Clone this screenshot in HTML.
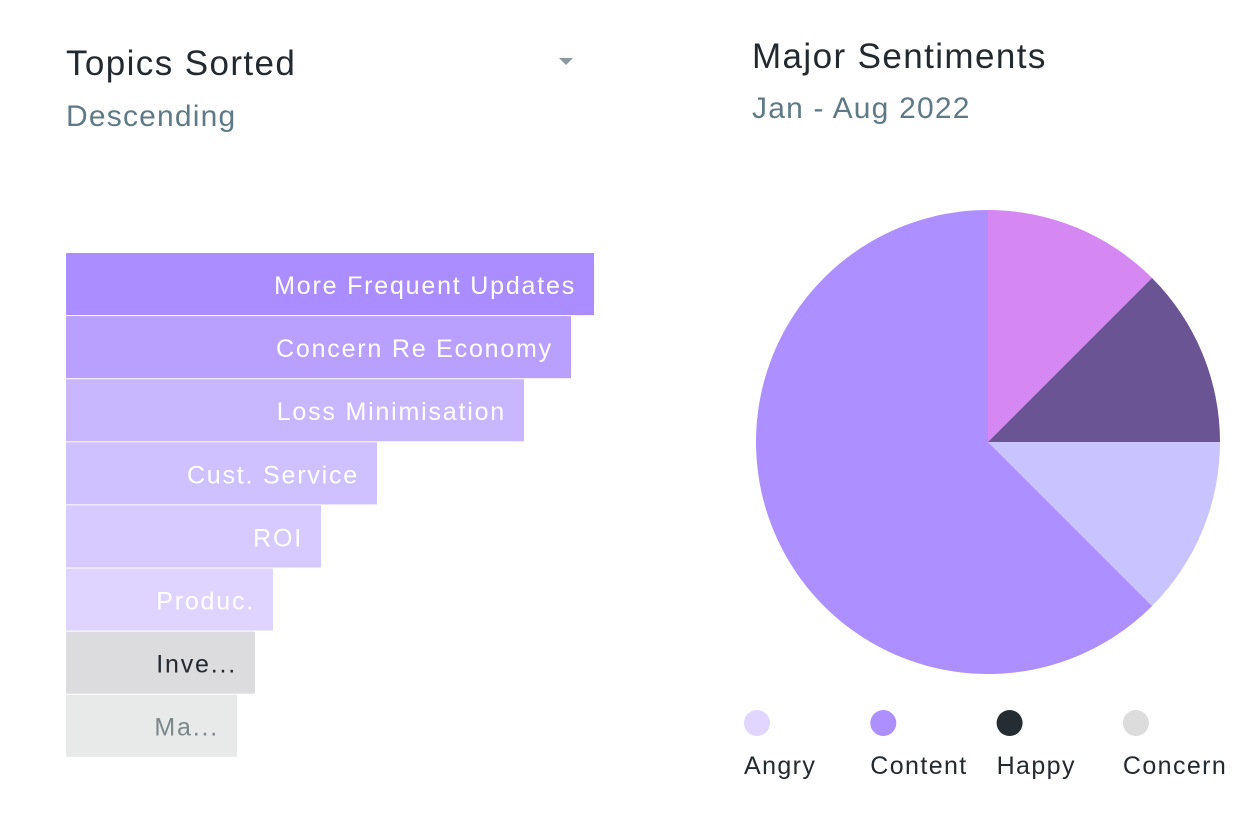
<!DOCTYPE html>
<html><head><meta charset="utf-8"><style>
body{margin:0;width:1258px;height:826px;background:#fff;font-family:"Liberation Sans",sans-serif;position:relative;overflow:hidden}
.t{position:absolute;white-space:nowrap}
</style></head><body>
<div class="t" style="left:66px;top:44px;font-size:35px;color:#22292f;letter-spacing:1.4px">Topics Sorted</div>
<div class="t" style="left:66px;top:100px;font-size:30px;color:#5f7a86;letter-spacing:1.2px">Descending</div>
<svg style="position:absolute;left:558px;top:57px" width="16" height="10"><polygon points="1,1 15,1 8,8" fill="#8a979e"/></svg>
<div class="t" style="left:752px;top:37px;font-size:35px;color:#22292f;letter-spacing:1.4px">Major Sentiments</div>
<div class="t" style="left:752px;top:92px;font-size:30px;color:#5f7a86;letter-spacing:1.2px">Jan - Aug 2022</div>
<svg id="chart" width="1258" height="826" style="position:absolute;left:0;top:0"></svg>
<script>
const topics=["More Frequent Updates","Concern Re Economy","Loss Minimisation","Cust. Service","ROI","Produc.","Inve...","Ma..."];
const topicValues=[528,505,458,311,255,207,189,171];
const barColors=["#ab8dff","#b9a0ff","#c8b7ff","#cfc0ff","#d6caff","#dfd4ff","#dcdcde","#e8e9e9"];
const textColors=["#fff","#fff","#fff","#fff","#fff","#fff","#22292f","#7c878c"];
const sentiments=["Angry","Content","Happy","Concern"];
const sliceLabels=["Pink","Dark","Light","Main"];
const sliceValues=[12.5,12.5,12.5,62.5];
const sliceColors=["#d587f2","#6a5494","#c9c3ff","#ad8fff"];
const legendColors=["#e0d6ff","#ad8fff","#252d33","#dcdcdc"];
const NS="http://www.w3.org/2000/svg";
const svg=document.getElementById('chart');
function mk(tag,attrs){const e=document.createElementNS(NS,tag);for(const k in attrs)e.setAttribute(k,attrs[k]);svg.appendChild(e);return e;}
const x0=66,y0=253,bh=63.1,scale=1;
function xw(v){return v*scale;}
topics.forEach((t,i)=>{
  const y=y0+i*bh;
  const r=mk('rect',{x:x0,y:y,width:xw(topicValues[i]),height:bh-1,fill:barColors[i]});
  
  
  const tx=mk('text',{x:x0+xw(topicValues[i])-18,y:y+41,'text-anchor':'end','font-size':25,fill:textColors[i],'letter-spacing':'1.8'});
  tx.textContent=t;
  
  
});
const cx=988,cy=442,R=232;
const tot=sliceValues.reduce((a,b)=>a+b,0);
let a=0;
sliceValues.forEach((v,i)=>{
  const a1=a+v/tot*2*Math.PI;
  const p=(t)=>[cx+R*Math.sin(t),cy-R*Math.cos(t)];
  const [sx,sy]=p(a),[ex,ey]=p(a1);
  const large=(a1-a)>Math.PI?1:0;
  const path=mk('path',{d:`M${cx},${cy}L${sx},${sy}A${R},${R} 0 ${large} 1 ${ex},${ey}Z`,fill:sliceColors[i]});
  
  
  a=a1;
});
sentiments.forEach((s,i)=>{
  const lx=757+i*126.3;
  const c=mk('circle',{cx:lx,cy:723,r:13,fill:legendColors[i]});
  
  
  const t=mk('text',{x:lx-13,y:774,'font-size':25,fill:'#22292f','letter-spacing':'1.4'});
  t.textContent=s;
  
  
});
</script>
</body></html>
